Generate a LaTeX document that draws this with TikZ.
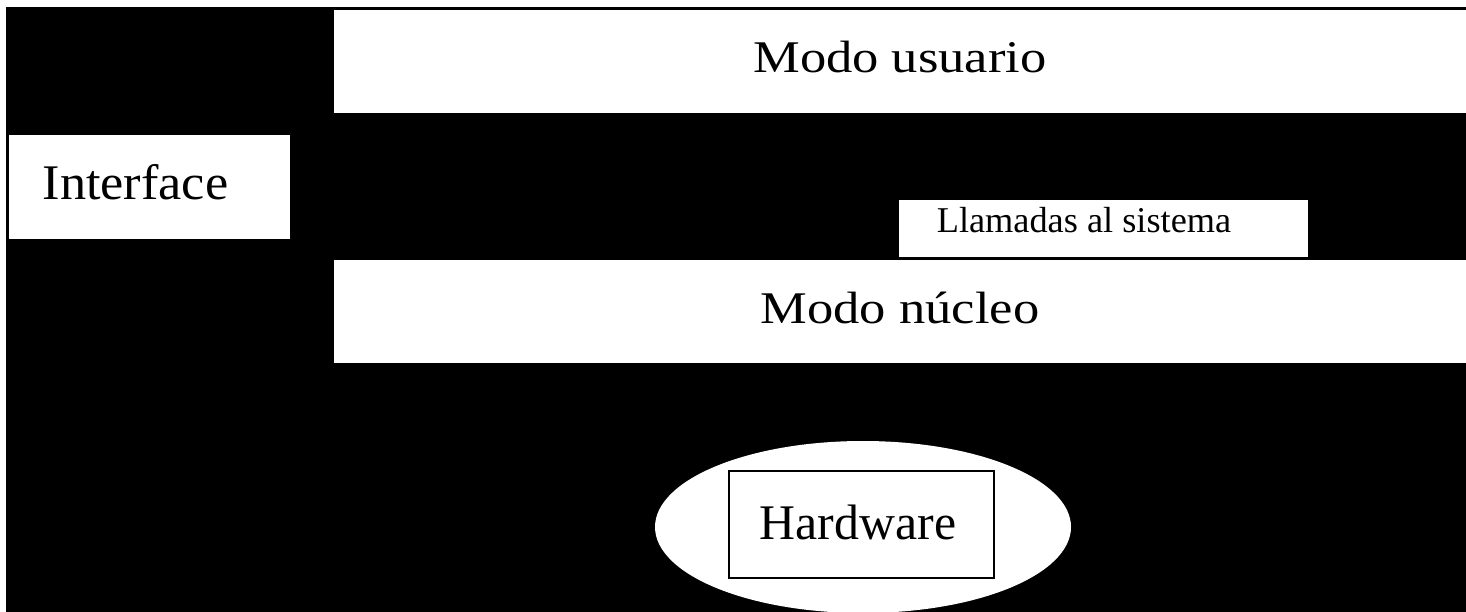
\documentclass[tikz,border=0pt]{standalone}
\usepackage{fontspec}
\setmainfont{Liberation Serif}
\usetikzlibrary{calc,shapes.geometric}
\tikzset{
  panel/.style={fill=white, draw=none, inner sep=0pt, rectangle},
  txt/.style={anchor=base, inner sep=0pt, text=black},
}
\begin{document}
\begin{tikzpicture}[x=1pt, y=-1pt]
\useasboundingbox (0,0) rectangle (1466,612);
\fill[white] (0,0) rectangle (1466,612);
\fill[black] (6,7) rectangle (1466,612);
% boxes
\node[panel, minimum width=1132pt, minimum height=103pt] (mu) at (900,61.5) {};
\node[panel, minimum width=1132pt, minimum height=103pt] (mn) at (900,311.5) {};
\node[panel, minimum width=281pt, minimum height=104pt] (ifc) at (149.5,187) {};
\node[panel, minimum width=409pt, minimum height=57pt] (ll) at (1103.5,228.5) {};
\node[ellipse, fill=white, inner sep=0pt, minimum width=416pt, minimum height=172pt] (hwe) at (863,527) {};
\node[rectangle, fill=white, draw=black, line width=2.6pt, inner sep=0pt, minimum width=265pt, minimum height=107pt] (hw) at (861.5,524.5) {};
% texts
\node[txt] (tmu) at ($(mu.center)+(0,11.5)$) {\fontsize{45.3}{50}\selectfont\scalebox{1.16}[1]{Modo usuario}};
\node[txt] (tmn) at ($(mn.center)+(0,11.5)$) {\fontsize{45.3}{50}\selectfont\scalebox{1.16}[1]{Modo núcleo}};
\node[txt] (tifc) at ($(ifc.center)+(-14,13)$) {\fontsize{49.8}{55}\selectfont\scalebox{1.05}[1]{Interface}};
\node[txt] (tll) at ($(ll.center)+(-19.5,4.5)$) {\fontsize{36.3}{40}\selectfont Llamadas al sistema};
\node[txt] (thw) at ($(hw.center)+(-3.5,14.5)$) {\fontsize{49.8}{55}\selectfont Hardware};
\end{tikzpicture}
\end{document}
